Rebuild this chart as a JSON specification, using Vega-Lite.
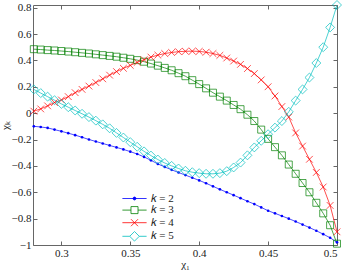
{
  "$schema": "https://vega.github.io/schema/vega-lite/v6.json",
  "width": 304,
  "height": 240,
  "autosize": "none",
  "padding": {"left": 33, "top": 5, "right": 5, "bottom": 27},
  "background": "white",
  "config": {
    "view": {"stroke": "#666666", "strokeWidth": 1},
    "axis": {"grid": false, "labelFont": "Liberation Serif", "labelFontSize": 11, "labelColor": "#222222", "titleFont": "Liberation Serif", "titleFontSize": 11, "titleFontWeight": "normal", "titleColor": "#222222", "tickColor": "#666666", "domainColor": "#666666", "tickSize": -4, "labelPadding": 6}
  },
  "datasets": {
    "pts": [
      {"k":"2","x":0.280,"y":-0.100},{"k":"2","x":0.285,"y":-0.105},{"k":"2","x":0.290,"y":-0.112},{"k":"2","x":0.295,"y":-0.125},{"k":"2","x":0.300,"y":-0.138},{"k":"2","x":0.305,"y":-0.152},{"k":"2","x":0.310,"y":-0.167},{"k":"2","x":0.315,"y":-0.183},{"k":"2","x":0.320,"y":-0.200},{"k":"2","x":0.325,"y":-0.215},{"k":"2","x":0.330,"y":-0.230},{"k":"2","x":0.335,"y":-0.245},{"k":"2","x":0.340,"y":-0.260},{"k":"2","x":0.345,"y":-0.275},{"k":"2","x":0.350,"y":-0.292},{"k":"2","x":0.355,"y":-0.310},{"k":"2","x":0.360,"y":-0.332},{"k":"2","x":0.365,"y":-0.358},{"k":"2","x":0.370,"y":-0.385},{"k":"2","x":0.375,"y":-0.408},{"k":"2","x":0.380,"y":-0.430},{"k":"2","x":0.385,"y":-0.450},{"k":"2","x":0.390,"y":-0.470},{"k":"2","x":0.395,"y":-0.490},{"k":"2","x":0.400,"y":-0.510},{"k":"2","x":0.405,"y":-0.532},{"k":"2","x":0.410,"y":-0.555},{"k":"2","x":0.415,"y":-0.578},{"k":"2","x":0.420,"y":-0.600},{"k":"2","x":0.425,"y":-0.622},{"k":"2","x":0.430,"y":-0.645},{"k":"2","x":0.435,"y":-0.668},{"k":"2","x":0.440,"y":-0.690},{"k":"2","x":0.445,"y":-0.715},{"k":"2","x":0.450,"y":-0.740},{"k":"2","x":0.455,"y":-0.760},{"k":"2","x":0.460,"y":-0.780},{"k":"2","x":0.465,"y":-0.800},{"k":"2","x":0.470,"y":-0.822},{"k":"2","x":0.475,"y":-0.845},{"k":"2","x":0.480,"y":-0.868},{"k":"2","x":0.485,"y":-0.892},{"k":"2","x":0.490,"y":-0.918},{"k":"2","x":0.495,"y":-0.945},{"k":"2","x":0.500,"y":-0.980},
      {"k":"3","x":0.280,"y":0.485},{"k":"3","x":0.285,"y":0.482},{"k":"3","x":0.290,"y":0.478},{"k":"3","x":0.295,"y":0.475},{"k":"3","x":0.300,"y":0.471},{"k":"3","x":0.305,"y":0.467},{"k":"3","x":0.310,"y":0.462},{"k":"3","x":0.315,"y":0.457},{"k":"3","x":0.320,"y":0.452},{"k":"3","x":0.325,"y":0.446},{"k":"3","x":0.330,"y":0.440},{"k":"3","x":0.335,"y":0.434},{"k":"3","x":0.340,"y":0.428},{"k":"3","x":0.345,"y":0.420},{"k":"3","x":0.350,"y":0.412},{"k":"3","x":0.355,"y":0.402},{"k":"3","x":0.360,"y":0.390},{"k":"3","x":0.365,"y":0.376},{"k":"3","x":0.370,"y":0.360},{"k":"3","x":0.375,"y":0.343},{"k":"3","x":0.380,"y":0.325},{"k":"3","x":0.385,"y":0.303},{"k":"3","x":0.390,"y":0.280},{"k":"3","x":0.395,"y":0.250},{"k":"3","x":0.400,"y":0.220},{"k":"3","x":0.405,"y":0.188},{"k":"3","x":0.410,"y":0.155},{"k":"3","x":0.415,"y":0.125},{"k":"3","x":0.420,"y":0.095},{"k":"3","x":0.425,"y":0.062},{"k":"3","x":0.430,"y":0.030},{"k":"3","x":0.435,"y":-0.012},{"k":"3","x":0.440,"y":-0.060},{"k":"3","x":0.445,"y":-0.125},{"k":"3","x":0.450,"y":-0.195},{"k":"3","x":0.455,"y":-0.258},{"k":"3","x":0.460,"y":-0.320},{"k":"3","x":0.465,"y":-0.390},{"k":"3","x":0.470,"y":-0.460},{"k":"3","x":0.475,"y":-0.530},{"k":"3","x":0.480,"y":-0.600},{"k":"3","x":0.485,"y":-0.680},{"k":"3","x":0.490,"y":-0.760},{"k":"3","x":0.495,"y":-0.850},{"k":"3","x":0.500,"y":-0.990},
      {"k":"4","x":0.280,"y":0.015},{"k":"4","x":0.285,"y":0.032},{"k":"4","x":0.290,"y":0.055},{"k":"4","x":0.295,"y":0.080},{"k":"4","x":0.300,"y":0.100},{"k":"4","x":0.305,"y":0.125},{"k":"4","x":0.310,"y":0.155},{"k":"4","x":0.315,"y":0.180},{"k":"4","x":0.320,"y":0.205},{"k":"4","x":0.325,"y":0.232},{"k":"4","x":0.330,"y":0.260},{"k":"4","x":0.335,"y":0.288},{"k":"4","x":0.340,"y":0.315},{"k":"4","x":0.345,"y":0.340},{"k":"4","x":0.350,"y":0.362},{"k":"4","x":0.355,"y":0.385},{"k":"4","x":0.360,"y":0.405},{"k":"4","x":0.365,"y":0.425},{"k":"4","x":0.370,"y":0.440},{"k":"4","x":0.375,"y":0.452},{"k":"4","x":0.380,"y":0.460},{"k":"4","x":0.385,"y":0.466},{"k":"4","x":0.390,"y":0.469},{"k":"4","x":0.395,"y":0.470},{"k":"4","x":0.400,"y":0.468},{"k":"4","x":0.405,"y":0.462},{"k":"4","x":0.410,"y":0.452},{"k":"4","x":0.415,"y":0.438},{"k":"4","x":0.420,"y":0.418},{"k":"4","x":0.425,"y":0.395},{"k":"4","x":0.430,"y":0.370},{"k":"4","x":0.435,"y":0.338},{"k":"4","x":0.440,"y":0.300},{"k":"4","x":0.445,"y":0.252},{"k":"4","x":0.450,"y":0.200},{"k":"4","x":0.455,"y":0.130},{"k":"4","x":0.460,"y":0.050},{"k":"4","x":0.465,"y":-0.030},{"k":"4","x":0.470,"y":-0.150},{"k":"4","x":0.475,"y":-0.250},{"k":"4","x":0.480,"y":-0.350},{"k":"4","x":0.485,"y":-0.450},{"k":"4","x":0.490,"y":-0.560},{"k":"4","x":0.495,"y":-0.700},{"k":"4","x":0.500,"y":-0.900},
      {"k":"5","x":0.280,"y":0.180},{"k":"5","x":0.285,"y":0.152},{"k":"5","x":0.290,"y":0.125},{"k":"5","x":0.295,"y":0.098},{"k":"5","x":0.300,"y":0.070},{"k":"5","x":0.305,"y":0.045},{"k":"5","x":0.310,"y":0.020},{"k":"5","x":0.315,"y":-0.005},{"k":"5","x":0.320,"y":-0.030},{"k":"5","x":0.325,"y":-0.057},{"k":"5","x":0.330,"y":-0.085},{"k":"5","x":0.335,"y":-0.115},{"k":"5","x":0.340,"y":-0.150},{"k":"5","x":0.345,"y":-0.185},{"k":"5","x":0.350,"y":-0.220},{"k":"5","x":0.355,"y":-0.255},{"k":"5","x":0.360,"y":-0.290},{"k":"5","x":0.365,"y":-0.322},{"k":"5","x":0.370,"y":-0.352},{"k":"5","x":0.375,"y":-0.378},{"k":"5","x":0.380,"y":-0.400},{"k":"5","x":0.385,"y":-0.420},{"k":"5","x":0.390,"y":-0.437},{"k":"5","x":0.395,"y":-0.448},{"k":"5","x":0.400,"y":-0.455},{"k":"5","x":0.405,"y":-0.460},{"k":"5","x":0.410,"y":-0.460},{"k":"5","x":0.415,"y":-0.455},{"k":"5","x":0.420,"y":-0.440},{"k":"5","x":0.425,"y":-0.412},{"k":"5","x":0.430,"y":-0.375},{"k":"5","x":0.435,"y":-0.320},{"k":"5","x":0.440,"y":-0.260},{"k":"5","x":0.445,"y":-0.210},{"k":"5","x":0.450,"y":-0.160},{"k":"5","x":0.455,"y":-0.110},{"k":"5","x":0.460,"y":-0.060},{"k":"5","x":0.465,"y":0.010},{"k":"5","x":0.470,"y":0.095},{"k":"5","x":0.475,"y":0.180},{"k":"5","x":0.480,"y":0.270},{"k":"5","x":0.485,"y":0.380},{"k":"5","x":0.490,"y":0.500},{"k":"5","x":0.495,"y":0.650},{"k":"5","x":0.500,"y":0.820}
    ]
  },
  "data": {"name": "pts"},
  "resolve": {"axis": {"x": "independent", "y": "independent"}},
  "layer": [
    {
      "mark": {"type": "line", "strokeWidth": 0.7},
      "encoding": {
        "x": {"field": "x", "type": "quantitative", "scale": {"domain": [0.2794, 0.5], "nice": false, "zero": false}, "axis": {"orient": "bottom", "title": "χ₁", "values": [0.3, 0.35, 0.4, 0.45, 0.5], "format": "~g", "titlePadding": 0, "domain": false}},
        "y": {"field": "y", "type": "quantitative", "scale": {"domain": [-1, 0.82], "nice": false, "zero": false}, "axis": {"orient": "left", "title": "χₖ", "values": [-1, -0.8, -0.6, -0.4, -0.2, 0, 0.2, 0.4, 0.6, 0.8], "format": "~g", "titlePadding": 1, "domain": false}},
        "color": {"field": "k", "type": "nominal", "scale": {"domain": ["2", "3", "4", "5"], "range": ["#0000ff", "#008000", "#ff0000", "#00bfbf"]},
          "legend": {"orient": "none", "legendX": 95.5, "legendY": 187.5, "title": null, "padding": 0, "symbolSize": 121, "labelOffset": 10, "rowPadding": 0.6, "labelFont": "Liberation Serif", "labelFontSize": 11, "labelColor": "#222222", "symbolStrokeWidth": 0.8,
            "labelExpr": "'𝑘 = ' + datum.label",
            "encode": {"symbols": {"update": {
              "shape": {"signal": "datum.value == '2' ? 'M-2.2,0H2.2M-0.27,0A0.27,0.27 0 1,0 0.27,0A0.27,0.27 0 1,0 -0.27,0Z' : datum.value == '3' ? 'M-2.2,0H-0.64M0.64,0H2.2M-0.64,-0.64H0.64V0.64H-0.64Z' : datum.value == '4' ? 'M-2.2,0H2.2M-0.64,-0.64L0.64,0.64M-0.64,0.64L0.64,-0.64' : 'M-2.2,0H-0.87M0.87,0H2.2M-0.87,0L0,-0.87L0.87,0L0,0.87Z'"},
              "fill": {"signal": "datum.value == '2' ? '#0000ff' : 'transparent'"}
            }}}
          }}
      }
    },
    {
      "transform": [{"filter": "datum.k == '2'"}],
      "mark": {"type": "point", "shape": "circle", "size": 7, "filled": true, "color": "#0000ff", "opacity": 1},
      "encoding": {
        "x": {"field": "x", "type": "quantitative", "axis": null},
        "y": {"field": "y", "type": "quantitative", "axis": null}
      }
    },
    {
      "transform": [{"filter": "datum.k == '3'"}],
      "mark": {"type": "point", "shape": "square", "size": 49, "filled": false, "color": "#008000", "strokeWidth": 0.7, "opacity": 1},
      "encoding": {
        "x": {"field": "x", "type": "quantitative", "axis": null},
        "y": {"field": "y", "type": "quantitative", "axis": null}
      }
    },
    {
      "transform": [{"filter": "datum.k == '4'"}],
      "mark": {"type": "point", "shape": "M-1,-1L1,1M-1,1L1,-1", "size": 45, "filled": false, "color": "#ff0000", "strokeWidth": 0.7, "opacity": 1},
      "encoding": {
        "x": {"field": "x", "type": "quantitative", "axis": null},
        "y": {"field": "y", "type": "quantitative", "axis": null}
      }
    },
    {
      "transform": [{"filter": "datum.k == '5'"}],
      "mark": {"type": "point", "shape": "diamond", "size": 80, "filled": false, "color": "#00bfbf", "strokeWidth": 0.7, "opacity": 1},
      "encoding": {
        "x": {"field": "x", "type": "quantitative", "axis": {"orient": "top", "labels": false, "title": null, "values": [0.3, 0.35, 0.4, 0.45, 0.5], "domain": false}},
        "y": {"field": "y", "type": "quantitative", "axis": {"orient": "right", "labels": false, "title": null, "values": [-1, -0.8, -0.6, -0.4, -0.2, 0, 0.2, 0.4, 0.6, 0.8], "domain": false}}
      }
    }
  ]
}
